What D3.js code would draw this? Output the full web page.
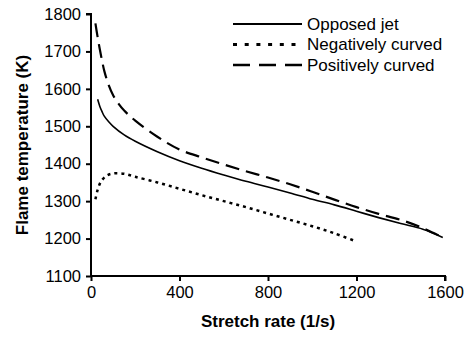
<!DOCTYPE html>
<html>
<head>
<meta charset="utf-8">
<script src="https://cdn.jsdelivr.net/npm/d3@7"></script>
<style>
  body { margin: 0; background: #fff; }
  svg { font-family: "Liberation Sans", Arial, sans-serif; }
</style>
</head>
<body>
<svg id="chart" width="470" height="337"></svg>
<script>
// values
let opposed_x = [30, 40, 50, 60, 80, 100, 150, 200, 300, 400, 500, 600, 700, 800, 900, 1000, 1100, 1200, 1300, 1400, 1500, 1590]
let opposed_y = [1572, 1553, 1539, 1527, 1512, 1500, 1477, 1460, 1432, 1408, 1388, 1370, 1353, 1338, 1322, 1305, 1290, 1273, 1256, 1240, 1225, 1203]

let negative_x = [20, 30, 45, 70, 100, 150, 200, 300, 400, 500, 600, 700, 800, 900, 1000, 1100, 1200]
let negative_y = [1305, 1330, 1352, 1368, 1374, 1373, 1365, 1350, 1333, 1316, 1300, 1284, 1267, 1250, 1233, 1214, 1192]

let positive_x = [20, 30, 40, 50, 60, 80, 100, 125, 150, 200, 300, 400, 500, 600, 700, 800, 900, 1000, 1100, 1200, 1300, 1400, 1500, 1590]
let positive_y = [1775, 1738, 1705, 1675, 1648, 1610, 1583, 1560, 1542, 1515, 1472, 1438, 1417, 1398, 1380, 1363, 1345, 1325, 1304, 1284, 1266, 1250, 1228, 1203]

let x_ticks = [0, 400, 800, 1200, 1600]
let y_ticks = [1100, 1200, 1300, 1400, 1500, 1600, 1700, 1800]
let series_names = ["Opposed jet", "Negatively curved", "Positively curved"]

let margins = {left: 91, right: 25, top: 14, bottom: 61},
    width = 470,
    height = 337;

function zip(xs, ys) {
  return xs.map((x, i) => ({x: x, y: ys[i]}))
}

function make_scales() {
  return {
    x: d3.scaleLinear().domain([0, 1600]).range([margins.left, width - margins.right]),
    y: d3.scaleLinear().domain([1100, 1800]).range([height - margins.bottom, margins.top])
  }
}

function draw() {
  let scales = make_scales()
  let svg = d3.select("#chart")

  let series = [
    {name: series_names[0], data: zip(opposed_x, opposed_y), dash: null, sw: 1.6, legend_dash: null},
    {name: series_names[1], data: zip(negative_x, negative_y), dash: "3,4", sw: 2.5, legend_dash: "4,7.7"},
    {name: series_names[2], data: zip(positive_x, positive_y), dash: "14,7", sw: 2.2, legend_dash: "17,9"}
  ]

  let line = d3.line()
    .x(d => scales.x(d.x))
    .y(d => scales.y(d.y))
    .curve(d3.curveCatmullRom.alpha(0.5))

  svg.append("g")
    .selectAll("path")
    .data(series).enter()
    .append("path")
    .attr("d", d => line(d.data))
    .attr("fill", "none")
    .attr("stroke", "#000")
    .attr("stroke-width", d => d.sw)
    .attr("stroke-dasharray", d => d.dash)

  // axes
  let xaxis = svg.append("g")
    .attr("transform", `translate(0, ${height - margins.bottom})`)
    .call(d3.axisBottom(scales.x).tickValues(x_ticks).tickSize(5).tickPadding(5).tickFormat(d3.format("d")))
  let yaxis = svg.append("g")
    .attr("transform", `translate(${margins.left}, 0)`)
    .call(d3.axisLeft(scales.y).tickValues(y_ticks).tickSize(5).tickPadding(5).tickFormat(d3.format("d")))

  for (let ax of [xaxis, yaxis]) {
    ax.select(".domain").attr("stroke-width", 2).attr("d", ax === xaxis
      ? `M${margins.left},0H${width - margins.right}V5`
      : `M-5,${margins.top}H0V${height - margins.bottom}`)
    ax.selectAll(".tick line").attr("stroke-width", 2)
    ax.selectAll("text").attr("font-size", 16.5).attr("fill", "#000")
      .attr("font-family", "Liberation Sans, Arial, sans-serif")
  }

  svg.append("text")
    .attr("x", (margins.left + width - margins.right) / 2)
    .attr("y", 327)
    .attr("text-anchor", "middle")
    .attr("font-size", 17)
    .attr("font-weight", "bold")
    .text("Stretch rate (1/s)")

  svg.append("text")
    .attr("transform", `translate(28, ${(margins.top + height - margins.bottom) / 2}) rotate(-90)`)
    .attr("text-anchor", "middle")
    .attr("font-size", 17)
    .attr("font-weight", "bold")
    .text("Flame temperature (K)")

  // legend
  let legend = svg.append("g")
    .selectAll("g")
    .data(series).enter()
    .append("g")
    .attr("transform", (d, i) => `translate(233, ${24 + i * 20.5})`)
  legend.append("line")
    .attr("x1", 0).attr("x2", 69)
    .attr("stroke", "#000")
    .attr("stroke-width", d => d.sw + 0.4)
    .attr("stroke-dasharray", d => d.legend_dash)
  legend.append("text")
    .attr("x", 74)
    .attr("dy", "0.35em")
    .attr("font-size", 17)
    .text(d => d.name)
}

draw()
</script>
</body>
</html>
